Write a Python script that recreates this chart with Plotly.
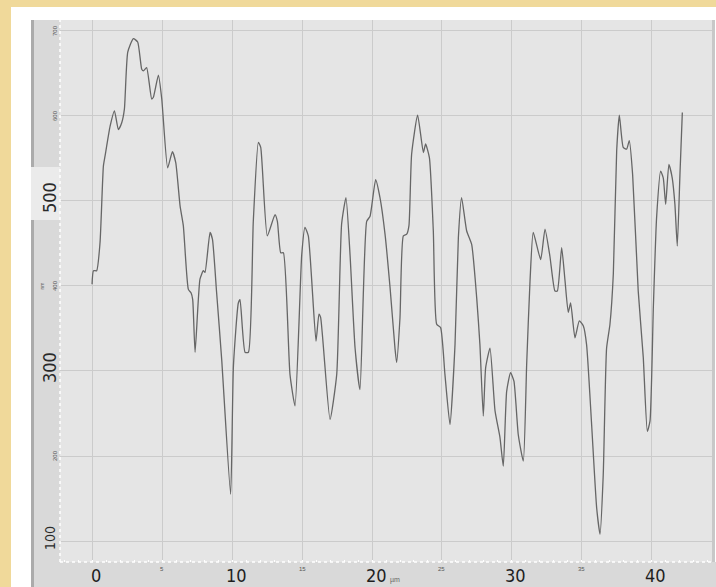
import plotly.graph_objects as go

# ---- data ----
x_um = [0, 0.1, 0.33, 0.57, 0.81, 0.93, 1.29, 1.6, 1.88, 2.12, 2.31, 2.55, 2.95, 3.26, 3.55, 3.67, 3.9,
        4.26, 4.38, 4.74, 4.98, 5.4, 5.74, 5.98, 6.29, 6.52, 6.88, 7.07, 7.19, 7.36, 7.71, 7.95, 8.07,
        8.43, 8.6, 8.9, 9.26, 9.9, 10.1, 10.45, 10.57,
        10.93, 11.17, 11.52, 11.88, 12.05, 12.52, 13.07, 13.24, 13.48, 13.67, 14.14, 14.5, 14.98, 15.21,
        15.45, 16.0, 16.21, 16.33, 17.0, 17.48, 17.83, 18.14, 18.43, 18.79, 19.14, 19.62, 19.86, 20.26,
        20.57, 20.93, 21.29,
        21.64, 21.76, 22.0, 22.24, 22.48, 22.64, 22.83, 23.26, 23.67, 23.83, 24.1, 24.38, 24.62, 24.9,
        25.21, 25.57, 25.93, 26.17, 26.4, 26.76, 27.12, 27.48, 27.71, 27.95, 28.12, 28.43, 28.79, 29.14,
        29.38, 29.62, 29.9, 30.14, 30.45, 30.81, 31.05, 31.29, 31.52, 32.05, 32.36, 32.71,
        33.07, 33.24, 33.55, 33.79, 34.02, 34.19, 34.5, 34.81, 35.1, 35.33, 35.69, 36.05, 36.29, 36.52,
        36.76, 37.0, 37.24, 37.48, 37.67, 37.95, 38.19, 38.38, 38.62, 39.02, 39.38, 39.67, 39.86, 40.1,
        40.33, 40.62, 40.81, 40.98, 41.21, 41.45, 41.64, 41.81, 42.0, 42.17]
height_nm = [402, 418, 418, 451, 541, 553, 588, 606, 584, 592, 608, 675, 691, 687, 655, 653, 657,
             620, 622, 648, 620, 539, 558, 545, 494, 471, 396, 392, 384, 322, 408, 418, 416,
             463, 455, 392, 314, 155, 306, 380, 384,
             322, 322, 476, 569, 563, 459, 484, 476, 439, 439, 296, 259, 437, 469,
             459, 335, 367, 363, 243, 296, 473, 504, 437, 327, 278, 476, 482, 525,
             504, 461, 398,
             327, 310, 363, 459, 461, 471, 555, 601, 557, 567, 551, 465, 355, 351,
             296, 237, 331, 457, 504, 465, 449, 386, 331, 247, 304, 327, 253, 222,
             188, 276, 298, 288, 225, 194, 308, 406, 463, 431, 467, 435,
             394, 394, 445, 406, 369, 380, 339, 359, 353, 331, 237, 139, 108, 178,
             327, 355, 414, 559, 601, 563, 561, 571, 531, 394, 316, 229, 241, 375,
             480, 535, 527, 496, 543, 527, 496, 447, 531, 604]

x_ticks = [0, 5, 10, 15, 20, 25, 30, 35, 40]
x_tick_labels = ["0", "5", "10", "15", "20", "25", "30", "35", "40"]
x_tick_big = [True, False, True, False, True, False, True, False, True]
y_ticks = [100, 200, 300, 400, 500, 600, 700]
y_tick_labels = ["100", "200", "300", "400", "500", "600", "700"]
y_tick_size = [14, 6, 18, 6, 18, 6, 6]
x_unit = "µm"
y_unit = "nm"

# ---- geometry (pixels of the 716x587 page) ----
W, H = 716, 587
L, R, T, B = 60, 712, 20, 562
XR = [-2.29, 44.29]
YR = [75.3, 712.9]


def px(xp):
    return (xp - L) / (R - L)


def py(yp):
    return (B - yp) / (B - T)


fig = go.Figure()
fig.add_trace(go.Scatter(
    x=x_um, y=height_nm, mode="lines",
    line=dict(color="#666666", width=1.3, shape="spline", smoothing=0.5),
    hoverinfo="skip", showlegend=False,
))

shapes = []


def rect(x0, y0, x1, y1, color):
    shapes.append(dict(type="rect", xref="paper", yref="paper",
                       x0=px(x0), x1=px(x1), y0=py(y1), y1=py(y0),
                       fillcolor=color, line=dict(width=0), layer="below"))


# white frame pieces (outside plot area)
rect(11, 7, 31, 587, "#ffffff")
rect(11, 7, 716, 20, "#ffffff")
rect(715, 20, 716, 587, "#ffffff")
# grey panel bands
rect(31, 20, 60, 587, "#d9d9d9")
rect(60, 562, 712, 587, "#d9d9d9")
rect(712, 20, 715, 587, "#c8c8c8")
rect(31, 20, 34, 167, "#ababab")
rect(31, 220, 34, 587, "#ababab")
rect(31, 167, 60, 220, "#ebebeb")
rect(712, 562, 716, 587, "#d9d9d9")
# dotted white borders of the plot
shapes.append(dict(type="line", xref="paper", yref="paper", x0=0, x1=1, y0=0, y1=0,
                   line=dict(color="#ffffff", width=1.5, dash="dot"), layer="above"))
shapes.append(dict(type="line", xref="paper", yref="paper", x0=0, x1=0, y0=0, y1=1,
                   line=dict(color="#ffffff", width=1.5, dash="dot"), layer="above"))

annotations = []
big_font = "Liberation Sans Narrow, DejaVu Sans Condensed, Liberation Sans, Arial, sans-serif"
for v, lab, big in zip(x_ticks, x_tick_labels, x_tick_big):
    if big:
        annotations.append(dict(x=v, xref="x", y=py(575), yref="paper", text=lab, showarrow=False,
                                xanchor="center", yanchor="middle", xshift=4,
                                font=dict(family=big_font, size=18, color="#1e1e1e")))
    else:
        annotations.append(dict(x=v, xref="x", y=py(569), yref="paper", text=lab, showarrow=False,
                                xanchor="center", yanchor="middle",
                                font=dict(family="Liberation Sans, Arial", size=6, color="#555555")))
annotations.append(dict(x=20, xref="x", y=py(580), yref="paper", text=x_unit, showarrow=False,
                        xanchor="left", yanchor="middle", xshift=16,
                        font=dict(family="Liberation Sans, Arial", size=7, color="#666666")))

for v, lab, sz in zip(y_ticks, y_tick_labels, y_tick_size):
    xpos = 50 if sz > 10 else 55
    annotations.append(dict(x=px(xpos), xref="paper", y=v, yref="y", text=lab, showarrow=False,
                            textangle=-90, xanchor="center", yanchor="middle",
                            yshift=3 if sz > 10 else 0,
                            font=dict(family=big_font if sz > 10 else "Liberation Sans, Arial",
                                      size=sz, color="#2a2a2a" if sz > 10 else "#555555")))
annotations.append(dict(x=px(41.5), xref="paper", y=400, yref="y", text=y_unit, showarrow=False,
                        textangle=-90, xanchor="center", yanchor="middle",
                        font=dict(family="Liberation Sans, Arial", size=5, color="#666666")))

fig.update_layout(
    width=W, height=H,
    margin=dict(l=L, r=W - R, t=T, b=H - B, pad=0),
    paper_bgcolor="#f0d99a",
    plot_bgcolor="#e5e5e5",
    showlegend=False,
    shapes=shapes,
    annotations=annotations,
    xaxis=dict(range=XR, tickvals=x_ticks, showticklabels=False, showgrid=True,
               gridcolor="#cbcbcb", gridwidth=1, zeroline=False, showline=False, ticks="",
               minor=dict(ticks="inside", ticklen=2, tickcolor="#ffffff", dtick=1, showgrid=False)),
    yaxis=dict(range=YR, tickvals=y_ticks, showticklabels=False, showgrid=True,
               gridcolor="#cbcbcb", gridwidth=1, zeroline=False, showline=False, ticks=""),
)

fig.write_html(
    "out.html",
    config={"displayModeBar": False, "staticPlot": True},
    post_script="document.body.style.margin='0';document.body.style.padding='0';"
                "document.body.style.overflow='hidden';",
)
